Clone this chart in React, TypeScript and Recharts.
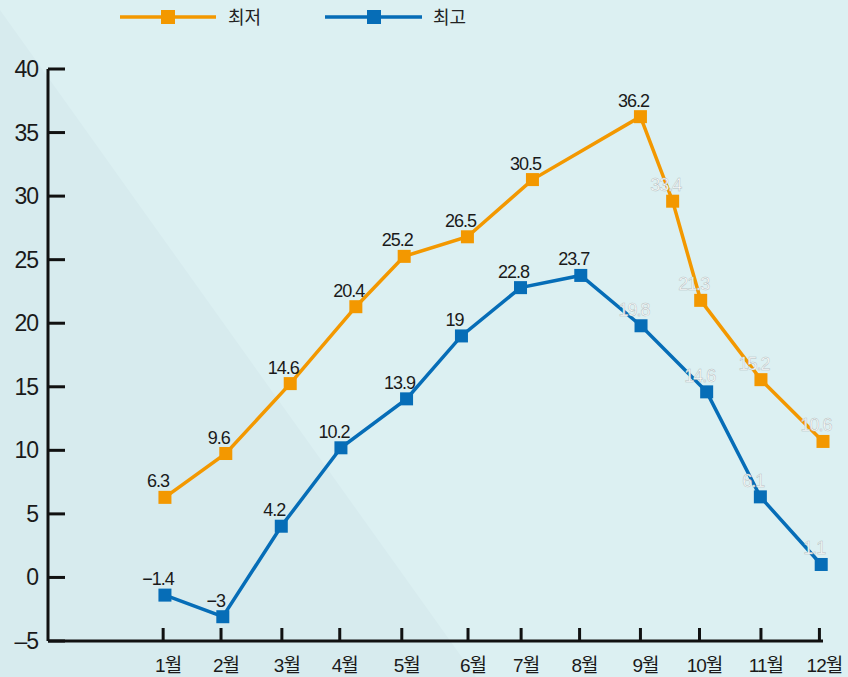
import React from 'react';
import { LineChart, Line, XAxis, YAxis, LabelList } from 'recharts';

// month tick labels and where their ticks sit (in month units)
const months = ['1월', '2월', '3월', '4월', '5월', '6월', '7월', '8월', '9월', '10월', '11월', '12월'];
const monthTicks = [1, 1.97, 2.99, 3.96, 5.0, 6.11, 7.0, 7.98, 9.0, 9.99, 11.02, 12.0];
const yTicks = [-5, 0, 5, 10, 15, 20, 25, 30, 35, 40];

// 최저 (orange)
const lowX = [1.03, 2.05, 3.13, 4.23, 5.04, 6.1, 7.19, 9.0, 9.54, 10.01, 11.02, 12.06];
const lowY = [6.3, 9.75, 15.25, 21.3, 25.26, 26.8, 31.3, 36.25, 29.6, 21.8, 15.56, 10.7];
const lowLabels = ['6.3', '9.6', '14.6', '20.4', '25.2', '26.5', '30.5', '36.2', '33.4', '21.3', '15.2', '10.6'];

// 최고 (blue)
const highX = [1.03, 2.0, 2.98, 3.98, 5.08, 6.0, 6.99, 8.0, 9.01, 10.11, 11.01, 12.03];
const highY = [-1.39, -3.09, 4.03, 10.2, 14.05, 19.0, 22.8, 23.76, 19.8, 14.6, 6.34, 1.02];
const highLabels = ['−1.4', '−3', '4.2', '10.2', '13.9', '19', '22.8', '23.7', '19.8', '14.6', '6.1', '1.1'];

// labels from this index on are drawn pale
const PALE_FROM = 8;

const ORANGE = '#f39800';
const BLUE = '#066db7';
const FONT = "'Liberation Sans', 'Noto Sans CJK KR', Arial, sans-serif";

const lowData = lowX.map((x, i) => ({ x, y: lowY[i], label: lowLabels[i], pale: i >= PALE_FROM }));
const highData = highX.map((x, i) => ({ x, y: highY[i], label: highLabels[i], pale: i >= PALE_FROM }));

const SquareDot = (color: string) => (props: any) => {
    const { cx, cy, index } = props;
    if (cx == null || cy == null) return null;
    return <rect key={index} x={cx - 6.5} y={cy - 6.5} width={13} height={13} fill={color} />;
};

const renderLabel = (data: any[]) => (props: any) => {
    const { x, y, value, index } = props;
    const pale = data[index] && data[index].pale;
    return (
        <text
            x={x - 7}
            y={y - 10}
            textAnchor="middle"
            fontFamily={FONT}
            fontSize={18}
            letterSpacing={-1}
            fill={pale ? '#ffffff' : '#1a1a1a'}
            stroke={pale ? '#b3bec0' : 'none'}
            strokeWidth={pale ? 0.5 : 0}
        >
            {value}
        </text>
    );
};

const MonthTick = (props: any) => {
    const { x, y, index } = props;
    return (
        <g>
            <line x1={x} y1={y} x2={x} y2={y - 13} stroke="#111" strokeWidth={3} />
            <text x={x + 5} y={y + 31} textAnchor="middle" fontFamily={FONT} fontSize={19} letterSpacing={-1} fill="#1a1a1a">
                {months[index]}
            </text>
        </g>
    );
};

const ValueTick = (props: any) => {
    const { x, y, payload } = props;
    const v = payload.value;
    return (
        <g>
            <line x1={x} y1={y} x2={x + 17} y2={y} stroke="#111" strokeWidth={3} />
            <text x={x - 10} y={y + 8} textAnchor="end" fontFamily={FONT} fontSize={23} letterSpacing={-1} fill="#1a1a1a">
                {v < 0 ? `–${Math.abs(v)}` : v}
            </text>
        </g>
    );
};

const LegendBar = () => (
    <svg width={848} height={40} style={{ position: 'absolute', left: 0, top: 0 }}>
        <line x1={120} y1={17} x2={216} y2={17} stroke={ORANGE} strokeWidth={3.5} />
        <rect x={161} y={10} width={14} height={14} fill={ORANGE} />
        <text x={228} y={24} fontFamily={FONT} fontSize={18} fill="#222">최저</text>
        <line x1={325} y1={17} x2={422} y2={17} stroke={BLUE} strokeWidth={3.5} />
        <rect x={367} y={10} width={14} height={14} fill={BLUE} />
        <text x={433} y={24} fontFamily={FONT} fontSize={18} fill="#222">최고</text>
    </svg>
);

export default function App() {
    return (
        <div style={{ position: 'absolute', left: 0, top: 0, width: 848, height: 677, background: '#dcf0f2', overflow: 'hidden' }}>
            <svg width={848} height={677} style={{ position: 'absolute', left: 0, top: 0 }}>
                <polygon points="0,10 476,677 0,677" fill="#d7ebee" />
            </svg>
            <LegendBar />
            <div style={{ position: 'absolute', left: 0, top: 0 }}>
                <LineChart width={848} height={677} margin={{ top: 69, right: 25, left: 0, bottom: 0 }}>
                    <XAxis
                        type="number"
                        dataKey="x"
                        domain={[-0.93, 12.06]}
                        ticks={monthTicks}
                        interval={0}
                        height={36}
                        tickSize={0}
                        tickMargin={0}
                        tickLine={false}
                        axisLine={{ stroke: '#111', strokeWidth: 3 }}
                        tick={<MonthTick />}
                    />
                    <YAxis
                        type="number"
                        domain={[-5, 40]}
                        ticks={yTicks}
                        interval={0}
                        width={48}
                        tickSize={0}
                        tickMargin={0}
                        tickLine={false}
                        axisLine={{ stroke: '#111', strokeWidth: 3 }}
                        tick={<ValueTick />}
                    />
                    <Line
                        data={lowData}
                        dataKey="y"
                        name="최저"
                        stroke={ORANGE}
                        strokeWidth={3.5}
                        dot={SquareDot(ORANGE)}
                        activeDot={false}
                        isAnimationActive={false}
                    >
                        <LabelList dataKey="label" content={renderLabel(lowData)} />
                    </Line>
                    <Line
                        data={highData}
                        dataKey="y"
                        name="최고"
                        stroke={BLUE}
                        strokeWidth={3.5}
                        dot={SquareDot(BLUE)}
                        activeDot={false}
                        isAnimationActive={false}
                    >
                        <LabelList dataKey="label" content={renderLabel(highData)} />
                    </Line>
                </LineChart>
            </div>
        </div>
    );
}
